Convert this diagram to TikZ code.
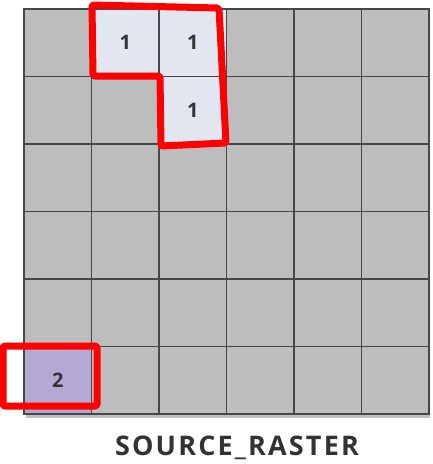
\documentclass[tikz,border=0pt]{standalone}
\usepackage{fontspec}
\setmainfont{Open Sans}
\usepackage{tikz}
\usetikzlibrary{shadows}

\definecolor{cellgrey}{HTML}{BDBDBD}
\definecolor{cellblue}{HTML}{E1E6F0}
\definecolor{cellpurple}{HTML}{B4A9D3}
\definecolor{gridline}{HTML}{474747}
\definecolor{labelgrey}{HTML}{333333}

\begin{document}
\begin{tikzpicture}[x=1pt, y=-1pt,
    cell/.style = {draw=gridline, line width=1.4pt, fill=cellgrey, minimum size=67.5pt, inner sep=0pt,
        text=labelgrey, font=\bfseries\fontsize{20}{20}\selectfont},
    mark1/.style = {cell, fill=cellblue},
    mark2/.style = {cell, fill=cellpurple},
    outline/.style = {draw=red, line width=7pt, line join=round, rounded corners=2pt}]

    \useasboundingbox (0,0) rectangle (432,464);

    % shadow under the raster
    \fill[black, opacity=0.25] (26,14) rectangle (430,418);

    % 6 x 6 source raster
    \foreach \i in {0,...,5} {
        \foreach \j in {0,...,5} {
            \node[cell] (c-\i-\j) at ({24+67.5*(\i+0.5)}, {9+67.5*(\j+0.5)}) {};
        }
    }

    \node[mark1] (c-1-0) at (c-1-0) {1};
    \node[mark1] (c-2-0) at (c-2-0) {1};
    \node[mark1] (c-2-1) at (c-2-1) {1};
    \node[mark2] (c-0-5) at (c-0-5) {2};

    % red outlines
    \draw[outline] (92,5) -- (219,8) -- (226,143) -- (161,146) -- (160,76) -- (93,76) -- cycle;
    \draw[outline] (3,346) -- (97,346) -- (97,406) -- (3,406) -- cycle;

    \node[inner sep=0pt, anchor=base, text=labelgrey, font=\bfseries\fontsize{27}{27}\selectfont\addfontfeatures{LetterSpace=8}] (title) at (237,455) {SOURCE\_RASTER};

\end{tikzpicture}
\end{document}
